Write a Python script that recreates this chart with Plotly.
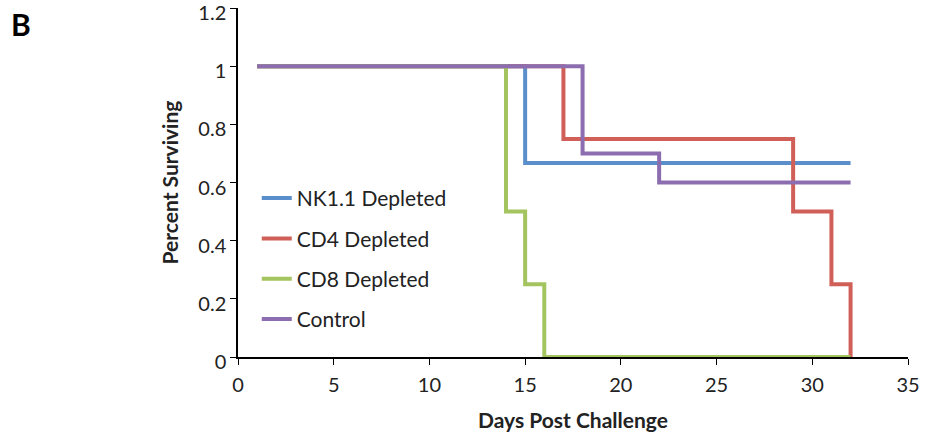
import plotly.graph_objects as go

# Kaplan-Meier style survival steps (day, fraction surviving)
nk_days = [1, 15, 32]
nk_surv = [1.0, 0.667, 0.667]

cd4_days = [1, 17, 29, 31, 32, 32]
cd4_surv = [1.0, 0.75, 0.5, 0.25, 0.25, 0.0]

cd8_days = [1, 14, 15, 16, 32]
cd8_surv = [1.0, 0.5, 0.25, 0.0, 0.0]

ctrl_days = [1, 18, 22, 32]
ctrl_surv = [1.0, 0.7, 0.6, 0.6]

series = [
    ("NK1.1 Depleted", nk_days, nk_surv, "#5A8FCB"),
    ("CD4 Depleted", cd4_days, cd4_surv, "#D05F58"),
    ("CD8 Depleted", cd8_days, cd8_surv, "#A3C45E"),
    ("Control", ctrl_days, ctrl_surv, "#8C6EB0"),
]

x_ticks = [0, 5, 10, 15, 20, 25, 30, 35]
y_ticks = [0, 0.2, 0.4, 0.6, 0.8, 1.0, 1.2]
y_tick_text = ["0", "0.2", "0.4", "0.6", "0.8", "1", "1.2"]

fig = go.Figure()
for name, days, surv, color in series:
    fig.add_trace(go.Scatter(
        x=days, y=surv, name=name, mode="lines",
        line=dict(color=color, width=4, shape="hv"),
        legendgroup=name,
    ))

font_family = "Lato, 'Open Sans', sans-serif"

fig.update_layout(
    width=927, height=438,
    margin=dict(l=238, r=19, t=8, b=81),
    paper_bgcolor="white", plot_bgcolor="white",
    font=dict(family=font_family, size=20, color="#222"),
    showlegend=True,
    legend=dict(
        x=0.028, y=0.513, xanchor="left", yanchor="top",
        bgcolor="rgba(0,0,0,0)",
        font=dict(size=21, color="#222"),
        tracegroupgap=10, itemwidth=30,
    ),
    xaxis=dict(
        range=[0, 35], tickvals=x_ticks, automargin=False,
        showline=True, linecolor="black", linewidth=1.5,
        ticks="outside", ticklen=6, tickcolor="black",
        tickfont=dict(size=20), ticklabelstandoff=3,
        showgrid=False, zeroline=False,
        title=dict(text="<b>Days Post Challenge</b>", font=dict(size=21), standoff=19),
    ),
    yaxis=dict(
        range=[0, 1.2], tickvals=y_ticks, ticktext=y_tick_text, automargin=False,
        showline=True, linecolor="black", linewidth=1.5,
        ticks="outside", ticklen=6, tickcolor="black",
        tickfont=dict(size=20), ticklabelshift=5,
        ticklabeloverflow="allow",
        showgrid=False, zeroline=False,
        title=dict(text="<b>Percent Surviving</b>", font=dict(size=21), standoff=14),
    ),
    annotations=[dict(
        text="<b>B</b>", xref="paper", yref="paper",
        x=(21 - 238) / 670, y=1 - (24 - 8) / 349,
        xanchor="center", yanchor="middle",
        showarrow=False, font=dict(size=30, color="black"),
    )],
)

fig.write_html("out.html")
